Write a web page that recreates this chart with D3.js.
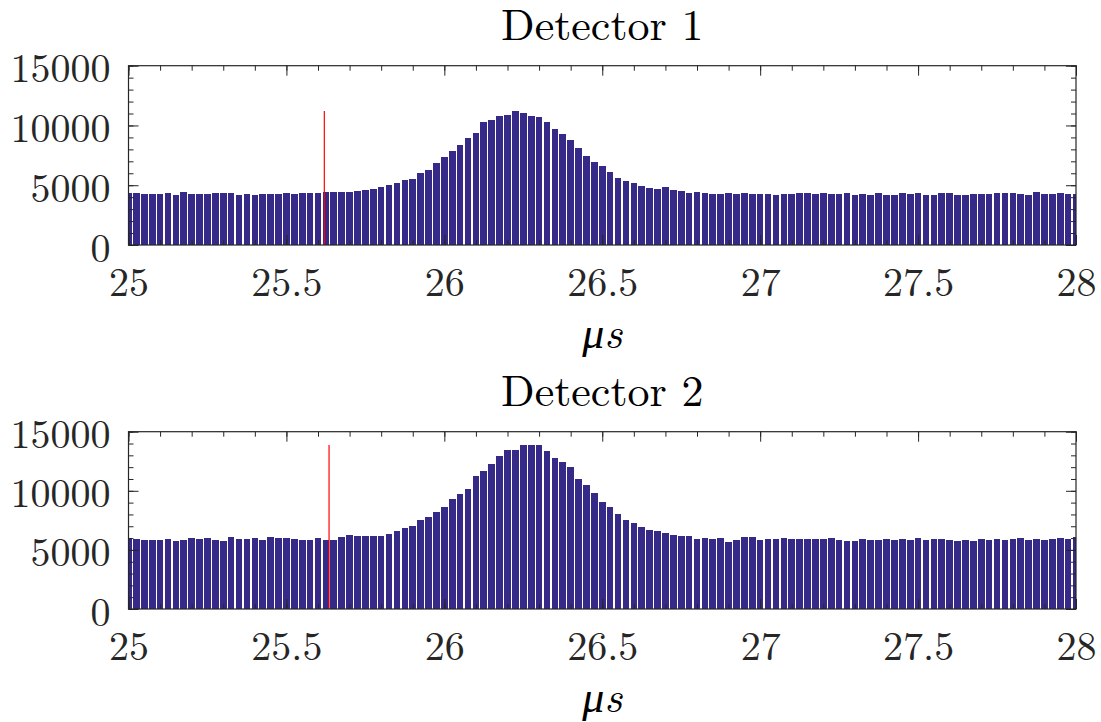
<!DOCTYPE html>
<html><head><meta charset="utf-8">
<script src="https://cdn.jsdelivr.net/npm/d3@7"></script>
<style>
html,body{margin:0;padding:0;background:#fff;}
svg{display:block;}
</style></head>
<body>
<svg id="chart" width="1101" height="722"></svg>
<script>
// ---- data ----
const binStart = 25;        // first bin centre (µs)
const binWidth = 0.025;     // bin width (µs)
const titles = ["Detector 1", "Detector 2"];
const xTickLabels = [25, 25.5, 26, 26.5, 27, 27.5, 28];
const yTickLabels = [0, 5000, 10000, 15000];
const markerTimes = [25.62, 25.635];

const detector1 = [
4377,4377,4294,4294,4294,4377,4210,4461,4294,4294,
4294,4377,4377,4377,4210,4294,4210,4294,4294,4294,
4377,4294,4377,4377,4377,4461,4461,4461,4461,4544,
4610,4700,4879,5018,5186,5437,5520,6022,6273,6858,
7360,7862,8364,8949,9368,10288,10455,10790,10873,11208,
11040,10790,10706,10288,9702,9284,8782,8113,7444,6942,
6608,6106,5604,5353,5186,4935,4767,4684,4851,4600,
4517,4349,4433,4349,4266,4266,4349,4266,4349,4266,
4266,4266,4182,4266,4266,4349,4349,4266,4349,4266,
4266,4349,4182,4266,4182,4349,4182,4182,4349,4266,
4349,4182,4182,4349,4349,4182,4182,4266,4266,4266,
4349,4349,4349,4266,4182,4433,4266,4266,4349,4266,
4266];

const detector2 = [
6006,5921,5836,5836,5836,5921,5752,5836,6006,5921,
6006,5836,5752,6090,5921,5921,6006,5836,6090,6006,
6006,5921,5836,5836,6006,5836,5836,6090,6259,6175,
6200,6200,6175,6344,6598,6851,7021,7528,7782,8205,
8628,9305,9727,10150,11250,11673,12265,12942,13449,13449,
13872,13872,13872,13364,12772,12434,12011,10996,10489,9812,
9051,8628,8036,7528,7274,6936,6682,6598,6429,6259,
6175,6175,5921,6006,5921,6006,5667,5836,6090,6090,
5836,5921,5921,6006,5921,5921,5921,5921,5921,6006,
5836,5752,5752,5921,5836,5836,5921,5836,5921,5836,
6006,5836,5921,5921,5836,5752,5836,5752,5921,5836,
5921,5836,5921,6006,5836,5921,5836,5921,6006,5921,
6090];

const series = [detector1, detector2];

// ---- layout / style ----
const panels = [
  {left: 128.5, right: 1076, top: 65.7, bottom: 245},
  {left: 128.5, right: 1076, top: 431.7, bottom: 609}
];
const barColor = "#352A87";
const axisColor = "#262626";
const FONT = "Latin Modern Roman";

const svg = d3.select("#chart");

function setFont(sel, size, italic) {
  sel.attr("font-family", FONT).style("font-family", `"${FONT}"`)
     .attr("font-size", size).style("font-size", size + "px");
  if (italic) sel.attr("font-style", "italic").style("font-style", "italic");
  return sel;
}

panels.forEach((p, i) => {
  const data = series[i];
  const x = d3.scaleLinear().domain([25, 28]).range([p.left, p.right]);
  const y = d3.scaleLinear().domain([0, 15000]).range([p.bottom, p.top]);
  const g = svg.append("g");

  const clipId = "clip" + i;
  svg.append("defs").append("clipPath").attr("id", clipId)
    .append("rect").attr("x", p.left).attr("y", p.top)
    .attr("width", p.right - p.left).attr("height", p.bottom - p.top);

  const bw = (x(binStart + binWidth) - x(binStart)) * 0.84;
  g.append("g").attr("clip-path", `url(#${clipId})`)
    .selectAll("rect").data(data).join("rect")
    .attr("x", (d, k) => x(binStart + k * binWidth) - bw / 2)
    .attr("width", bw)
    .attr("y", d => y(d))
    .attr("height", d => y(0) - y(d))
    .attr("fill", barColor)
    .attr("shape-rendering", "crispEdges");

  const peak = d3.max(data);
  g.append("line")
    .attr("x1", x(markerTimes[i])).attr("x2", x(markerTimes[i]))
    .attr("y1", y(0)).attr("y2", y(peak))
    .attr("stroke", "#ff0000").attr("stroke-width", 1.2);

  const minorX = d3.range(250, 281).map(v => v / 10);
  const minorY = d3.range(0, 16).map(v => v * 1000);

  function styleAxis(sel) {
    sel.attr("font-family", FONT).attr("font-size", 40);
    sel.select(".domain").remove();
    sel.selectAll("line").attr("stroke", axisColor).attr("stroke-width", 1);
    setFont(sel.selectAll("text").attr("fill", axisColor), 40, false);
  }

  g.append("g").attr("transform", `translate(0,${p.bottom})`)
    .call(d3.axisBottom(x).tickValues(minorX).tickSize(-5).tickFormat(""))
    .call(styleAxis);
  g.append("g").attr("transform", `translate(0,${p.bottom})`)
    .call(d3.axisBottom(x).tickValues(xTickLabels).tickSize(-10).tickPadding(23)
      .tickFormat(d3.format("")))
    .call(styleAxis);
  g.append("g").attr("transform", `translate(0,${p.top})`)
    .call(d3.axisTop(x).tickValues(minorX).tickSize(-5).tickFormat(""))
    .call(styleAxis);
  g.append("g").attr("transform", `translate(0,${p.top})`)
    .call(d3.axisTop(x).tickValues(xTickLabels).tickSize(-10).tickFormat(""))
    .call(styleAxis);
  g.append("g").attr("transform", `translate(${p.left},0)`)
    .call(d3.axisLeft(y).tickValues(minorY).tickSize(-5).tickFormat(""))
    .call(styleAxis);
  const la = g.append("g").attr("transform", `translate(${p.left},0)`)
    .call(d3.axisLeft(y).tickValues(yTickLabels).tickSize(-10).tickPadding(18)
      .tickFormat(d3.format("")))
    .call(styleAxis);
  la.selectAll("text").attr("dy", "0.4em");
  g.append("g").attr("transform", `translate(${p.right},0)`)
    .call(d3.axisRight(y).tickValues(minorY).tickSize(-5).tickFormat(""))
    .call(styleAxis);
  g.append("g").attr("transform", `translate(${p.right},0)`)
    .call(d3.axisRight(y).tickValues(yTickLabels).tickSize(-10).tickFormat(""))
    .call(styleAxis);

  g.append("rect")
    .attr("x", p.left).attr("y", p.top)
    .attr("width", p.right - p.left).attr("height", p.bottom - p.top)
    .attr("fill", "none").attr("stroke", axisColor).attr("stroke-width", 1.2);

  setFont(g.append("text"), 44, false)
    .attr("x", (p.left + p.right) / 2).attr("y", p.top - 26)
    .attr("text-anchor", "middle")
    .attr("fill", "#000")
    .text(titles[i]);

  setFont(g.append("text"), 44, true)
    .attr("x", (p.left + p.right) / 2).attr("y", p.bottom + 103)
    .attr("text-anchor", "middle")
    .attr("fill", "#000")
    .text("μs");
});
</script>
</body></html>
